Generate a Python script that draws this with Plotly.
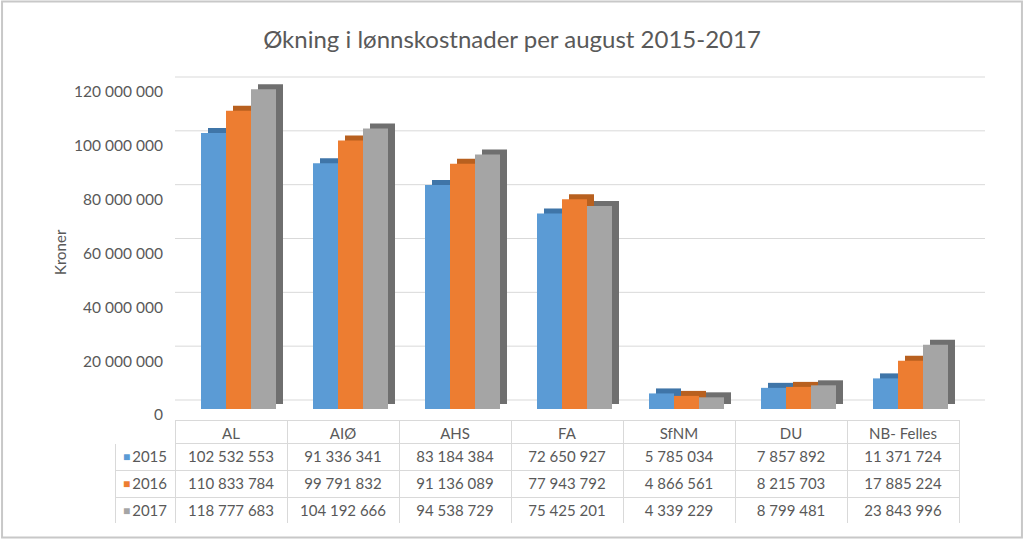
import plotly.graph_objects as go

categories = ["AL", "AIØ", "AHS", "FA", "SfNM", "DU", "NB- Felles"]
years = ["2015", "2016", "2017"]
v2015 = [102532553, 91336341, 83184384, 72650927, 5785034, 7857892, 11371724]
v2016 = [110833784, 99791832, 91136089, 77943792, 4866561, 8215703, 17885224]
v2017 = [118777683, 104192666, 94538729, 75425201, 4339229, 8799481, 23843996]
series = [v2015, v2016, v2017]
tick_vals = [0, 20000000, 40000000, 60000000, 80000000, 100000000, 120000000]
tick_text = ["0", "20 000 000", "40 000 000", "60 000 000", "80 000 000", "100 000 000", "120 000 000"]

colors = ["#5B9BD5", "#ED7D31", "#A5A5A5"]
dark = ["#3F75A8", "#B8601F", "#6F6F6F"]

W, H = 1024, 539
FONT = "Lato"
TXT = "#595959"
NB = "\u00a0"

def fmt(v):
    return f"{v:,}".replace(",", NB)

def py(p):
    return 1 - p / H

x_left, x_right = 175, 959
y_zero, y_top = 409, 60
ymax = (y_zero - y_top) / 323 * 120000000
px_per_val = 323 / 120000000
dy = 5 / px_per_val
grid_dy = 9 / px_per_val

bw = 25 / 112
off0 = -30 / 112
dx = 7 / 112

fig = go.Figure()
# depth (side/top faces)
for i in range(3):
    fig.add_trace(go.Bar(
        x=categories, y=series[i], base=dy, offset=off0 + i * bw + dx, width=bw,
        marker=dict(color=dark[i], line=dict(width=0)), hoverinfo="skip", showlegend=False))
# front faces
for i in range(3):
    fig.add_trace(go.Bar(
        x=categories, y=series[i], offset=off0 + i * bw, width=bw, name=years[i],
        marker=dict(color=colors[i], line=dict(width=0)), showlegend=False))

# data table
tbl_top, hdr_h, row_h = 420, 23, 27
tbl_bot = tbl_top + hdr_h + 3 * row_h
cols = [years] + [[fmt(series[r][c]) for r in range(3)] for c in range(len(categories))]
fig.add_trace(go.Table(
    domain=dict(x=[115 / W, x_right / W], y=[py(tbl_bot), py(tbl_top)]),
    columnwidth=[60] + [112] * len(categories),
    header=dict(values=[""] + [c.replace(" ", NB) for c in categories], height=hdr_h,
                fill=dict(color="white"),
                line=dict(color=["white"] + ["#D9D9D9"] * len(categories), width=1),
                font=dict(family=FONT, size=15, color=TXT), align="center"),
    cells=dict(values=cols, height=row_h,
               fill=dict(color="white"),
               line=dict(color="#D9D9D9", width=1),
               font=dict(family=FONT, size=15, color=TXT),
               align=["right"] + ["center"] * len(categories)),
))

annotations = []
for i in range(3):
    yc = tbl_top + hdr_h + row_h * (i + 0.5)
    annotations.append(dict(text="■", x=126 / W, y=py(yc), xref="paper", yref="paper",
                            xanchor="center", yanchor="middle", showarrow=False,
                            font=dict(size=12, color=colors[i])))
annotations.append(dict(text="Kroner", x=60 / W, y=py(252), xref="paper", yref="paper",
                        xanchor="center", yanchor="middle", showarrow=False, textangle=-90,
                        font=dict(family=FONT, size=15, color=TXT)))

shapes = []
for v in tick_vals:
    shapes.append(dict(type="line", xref="paper", yref="y", x0=x_left / W, x1=985 / W,
                       y0=v + grid_dy, y1=v + grid_dy, line=dict(color="#D9D9D9", width=1),
                       layer="below"))
shapes.append(dict(type="rect", xref="paper", yref="paper", x0=0.002, x1=0.998, y0=0.003, y1=0.997,
                   line=dict(color="#C8C8C8", width=2)))

fig.update_layout(
    width=W, height=H,
    margin=dict(l=0, r=0, t=0, b=0, autoexpand=False),
    paper_bgcolor="white", plot_bgcolor="white",
    barmode="overlay",
    font=dict(family=FONT, color=TXT),
    title=dict(text="Økning i lønnskostnader per august 2015-2017", x=0.5, xanchor="center",
               y=py(40), yanchor="middle", font=dict(family=FONT, size=24, color=TXT)),
    xaxis=dict(domain=[x_left / W, x_right / W], range=[-0.5, len(categories) - 0.5],
               showticklabels=False, showgrid=False, zeroline=False, showline=False,
               automargin=False),
    yaxis=dict(domain=[py(y_zero), py(y_top)], range=[0, ymax],
               tickvals=tick_vals, ticktext=tick_text, showgrid=False, zeroline=False,
               showline=False, ticks="outside", ticklen=8, tickcolor="rgba(0,0,0,0)",
               ticklabelshift=6, automargin=False,
               tickfont=dict(family=FONT, size=15.5, color=TXT)),
    shapes=shapes,
    annotations=annotations,
)

post = (
    "var s=document.createElement('style');"
    "s.textContent='html,body{margin:0;padding:0;overflow:hidden;}';"
    "document.head.appendChild(s);"
)
fig.write_html("out.html", config={"displayModeBar": False}, post_script=post)
